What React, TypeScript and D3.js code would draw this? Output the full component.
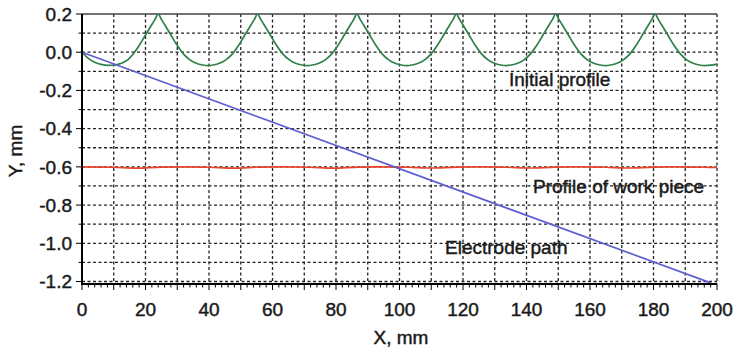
import React from "react";
import * as d3 from "d3";

const initialProfile: [number, number][] = [
  [0, 0], [2, -0.032], [4, -0.052], [6, -0.064], [8.4, -0.069], [10.4, -0.067], [12.4, -0.058], [14.4, -0.04], [16, -0.012], [18, 0.035], [20, 0.09], [22, 0.145], [23, 0.172], [24, 0.2],
  [25, 0.172], [26, 0.145], [28, 0.09], [30, 0.035], [32, -0.01], [34, -0.04], [36, -0.058], [38, -0.067], [39.65, -0.07], [41.3, -0.067], [43.3, -0.058], [45.3, -0.04], [47.3, -0.01], [49.3, 0.035], [51.3, 0.09], [53.3, 0.145], [54.3, 0.172], [55.3, 0.2],
  [56.3, 0.172], [57.3, 0.145], [59.3, 0.09], [61.3, 0.035], [63.3, -0.01], [65.3, -0.04], [67.3, -0.058], [69.3, -0.067], [70.95, -0.07], [72.6, -0.067], [74.6, -0.058], [76.6, -0.04], [78.6, -0.01], [80.6, 0.035], [82.6, 0.09], [84.6, 0.145], [85.6, 0.172], [86.6, 0.2],
  [87.6, 0.172], [88.6, 0.145], [90.6, 0.09], [92.6, 0.035], [94.6, -0.01], [96.6, -0.04], [98.6, -0.058], [100.6, -0.067], [102.25, -0.07], [103.9, -0.067], [105.9, -0.058], [107.9, -0.04], [109.9, -0.01], [111.9, 0.035], [113.9, 0.09], [115.9, 0.145], [116.9, 0.172], [117.9, 0.2],
  [118.9, 0.172], [119.9, 0.145], [121.9, 0.09], [123.9, 0.035], [125.9, -0.01], [127.9, -0.04], [129.9, -0.058], [131.9, -0.067], [133.55, -0.07], [135.2, -0.067], [137.2, -0.058], [139.2, -0.04], [141.2, -0.01], [143.2, 0.035], [145.2, 0.09], [147.2, 0.145], [148.2, 0.172], [149.2, 0.2],
  [150.2, 0.172], [151.2, 0.145], [153.2, 0.09], [155.2, 0.035], [157.2, -0.01], [159.2, -0.04], [161.2, -0.058], [163.2, -0.067], [164.85, -0.07], [166.5, -0.067], [168.5, -0.058], [170.5, -0.04], [172.5, -0.01], [174.5, 0.035], [176.5, 0.09], [178.5, 0.145], [179.5, 0.172], [180.5, 0.2],
  [181.5, 0.172], [182.5, 0.145], [184.5, 0.09], [186.5, 0.035], [188.5, -0.01], [190.5, -0.04], [192.5, -0.058], [194.5, -0.067], [196.15, -0.07], [198, -0.068], [200, -0.062],
];

const workPiece: [number, number][] = [
  [0, -0.6], [10, -0.602], [17, -0.607], [25, -0.601], [32, -0.6], [40, -0.602], [48, -0.607], [56, -0.601],
  [64, -0.6], [72, -0.602], [79, -0.607], [87, -0.601], [95, -0.6], [103, -0.602], [110, -0.606], [118, -0.601],
  [126, -0.6], [134, -0.602], [141, -0.606], [149, -0.601], [157, -0.6], [165, -0.602], [172, -0.606], [180, -0.601],
  [188, -0.6], [196, -0.602], [200, -0.603],
];

const electrodePath: [number, number][] = [
  [0, 0], [198, -1.207],
];

const xTicks = [0, 20, 40, 60, 80, 100, 120, 140, 160, 180, 200];
const yTicks = [0.2, 0.0, -0.2, -0.4, -0.6, -0.8, -1.0, -1.2];
const xGrid = d3.range(10, 201, 10);
const yGrid = [0.1, 0.0, -0.1, -0.2, -0.3, -0.4, -0.5, -0.6, -0.7, -0.8, -0.9, -1.0, -1.1, -1.2];
const xMinor = d3.range(0, 201, 2);

const W = 736, H = 351;
const L = 82, R = 717, T = 14, B = 284;

export default function App() {
  const x = d3.scaleLinear().domain([0, 200]).range([L, R]);
  const y = d3.scaleLinear().domain([-1.213, 0.2]).range([B, T]);
  const lineSmooth = d3.line<[number, number]>().x(d => x(d[0])).y(d => y(d[1])).curve(d3.curveMonotoneX);
  const lineStraight = d3.line<[number, number]>().x(d => x(d[0])).y(d => y(d[1]));
  const font = "'Liberation Sans', Arial, sans-serif";
  const txt = "#1a1a1a";
  const ts = { fill: txt, stroke: txt, strokeWidth: 0.45 };
  return (
    <svg width={W} height={H} style={{ position: "absolute", left: 0, top: 0, background: "#fff" }} fontFamily={font}>
      {/* grid */}
      {yGrid.map((v, i) => (
        <line key={"gy" + i} x1={L} x2={R} y1={y(v)} y2={y(v)} stroke="#222" strokeWidth={1.3} strokeDasharray="3,2.5" />
      ))}
      {xGrid.map((v, i) => (
        <line key={"gx" + i} x1={x(v)} x2={x(v)} y1={T} y2={B} stroke="#222" strokeWidth={1.3} strokeDasharray="3,2.5" />
      ))}
      {/* top border */}
      <line x1={L} x2={R} y1={T} y2={T} stroke="#444" strokeWidth={1.6} />
      {/* series */}
      <path d={lineSmooth(initialProfile) || ""} fill="none" stroke="#2f8049" strokeWidth={1.7} />
      <path d={lineSmooth(workPiece) || ""} fill="none" stroke="#e8442c" strokeWidth={1.7} />
      <path d={lineStraight(electrodePath) || ""} fill="none" stroke="#5f5fd2" strokeWidth={1.7} />
      {/* axes */}
      <line x1={L} x2={L} y1={T} y2={B + 1} stroke="#000" strokeWidth={2} />
      <line x1={L - 1} x2={R} y1={B} y2={B} stroke="#000" strokeWidth={2} />
      {xMinor.map((v, i) => (
        <line key={"xm" + i} x1={x(v)} x2={x(v)} y1={B} y2={B + (v % 10 === 0 ? 6 : 3.5)} stroke="#000" strokeWidth={1} />
      ))}
      {yGrid.concat([0.2]).map((v, i) => (
        <line key={"ym" + i} x1={L - (Math.round(v * 10) % 2 === 0 ? 6 : 3.5)} x2={L} y1={y(v)} y2={y(v)} stroke="#000" strokeWidth={1} />
      ))}
      {/* tick labels */}
      {xTicks.map((v, i) => (
        <text key={"xt" + i} x={x(v)} y={316} textAnchor="middle" fontSize={19} {...ts}>{v}</text>
      ))}
      {yTicks.map((v, i) => (
        <text key={"yt" + i} x={L - 10} y={y(v)} dy="0.35em" textAnchor="end" fontSize={19} {...ts}>{v.toFixed(1)}</text>
      ))}
      {/* axis labels */}
      <text x={401} y={344} textAnchor="middle" fontSize={19} {...ts}>X, mm</text>
      <text transform={`translate(22,151) rotate(-90)`} textAnchor="middle" fontSize={19} {...ts}>Y, mm</text>
      {/* annotations */}
      <text x={509} y={86} fontSize={19} {...ts}>Initial profile</text>
      <text x={533} y={193} fontSize={19} {...ts}>Profile of work piece</text>
      <text x={445} y={254} fontSize={19} {...ts}>Electrode path</text>
    </svg>
  );
}
